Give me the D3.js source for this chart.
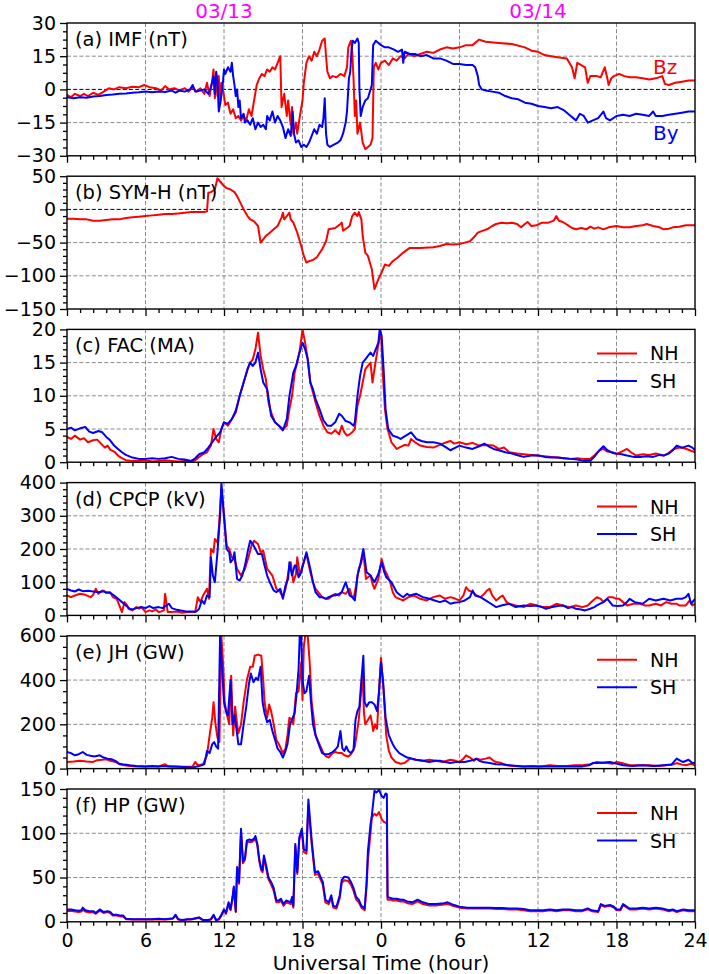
<!DOCTYPE html>
<html><head><meta charset="utf-8">
<script src="https://cdn.jsdelivr.net/npm/d3@7/dist/d3.min.js"></script>
<style>body{margin:0;background:#fff}svg{display:block}text{font-family:"DejaVu Sans",sans-serif}</style>
</head><body><svg id="c" width="709" height="974"></svg>
<script>
// ---------------- DATA (t in hours since 03/13 00 UT) ----------------
const xTickValues = [0,6,12,18,24,30,36,42,48];
const xTickLabels = ["0","6","12","18","0","6","12","18","24"];
const dateLabels = [{t:12,text:"03/13"},{t:36,text:"03/14"}];

const imfBz = [[0,-2.5],[0.3,-3.5],[0.6,-2],[1,-3],[1.3,-2],[1.6,-3],[2,-1.5],[2.4,-2.5],[2.8,-1],[3.2,0.5],[3.6,0],[4,1],[4.5,0.5],[5,1.2],[5.5,1],[5.9,2],[6.3,1],[6.8,0.5],[7.2,-0.5],[7.5,1.5],[7.8,0],[8.2,0.5],[8.6,-0.5],[9,0.5],[9.3,-1],[9.6,1],[9.9,-1],[10.2,0.5],[10.5,-2],[10.7,3],[10.9,-3],[11.1,4],[11.2,9],[11.3,-4],[11.4,7],[11.5,-3],[11.6,6],[11.7,-5],[11.8,3],[12.0,-3],[12.1,-7],[12.3,-6],[12.5,-11],[12.7,-9],[12.9,-13],[13.1,-12],[13.3,-14],[13.5,-12],[13.7,-14],[13.9,-9],[14.1,-12],[14.3,-5],[14.5,2],[14.7,5],[14.9,7],[15.1,6],[15.3,9],[15.5,8],[15.7,10],[15.9,9],[16.1,12],[16.3,15],[16.4,-8],[16.6,-2],[16.8,-12],[16.9,-5],[17.1,-16],[17.2,-8],[17.3,-20],[17.5,-15],[17.6,-20],[17.8,-12],[18.0,-5],[18.1,3],[18.3,12],[18.5,15],[18.7,13],[18.9,17],[19.1,15],[19.3,18],[19.5,22],[19.7,23],[19.8,15],[19.9,8],[20.1,5],[20.3,6],[20.6,5.5],[20.9,7],[21.2,6],[21.4,10],[21.5,19],[21.7,22],[21.8,17],[21.9,5],[22.0,-12],[22.1,-5],[22.2,-20],[22.4,-15],[22.6,-24],[22.8,-27],[23.0,-26],[23.2,-25],[23.35,-22],[23.45,10],[23.6,12],[23.8,9],[24.0,12],[24.3,13],[24.6,11],[24.9,14],[25.2,13],[25.5,15],[25.8,14],[26.1,16],[26.5,15],[27,16],[27.5,17],[28,16.5],[28.5,18],[29,19],[29.5,18.5],[30,19],[30.5,20],[31,20],[31.5,22.5],[32,21.5],[33,21],[34,20.5],[35,19],[35.5,17.5],[36,17],[36.5,15.5],[37,15],[37.5,14.5],[38.2,14],[38.6,10],[38.8,5],[39.0,12],[39.3,11],[39.6,10],[39.8,3],[40.0,6],[40.5,6],[40.8,5.5],[41.1,10],[41.3,5],[41.4,2],[41.6,5],[41.8,6],[42.2,7],[42.6,6],[43,5.5],[43.5,5.5],[44,5],[44.5,4.5],[45,5],[45.5,6],[45.7,2.5],[46,2],[46.5,3],[47,3.5],[47.5,4],[48,4]];

const imfBy = [[0,-3.5],[0.5,-4],[1,-3.5],[1.5,-3.8],[2,-3.2],[2.5,-3],[3,-2.5],[3.5,-2.3],[4,-2],[4.5,-1.8],[5,-1.5],[5.5,-1.3],[6,-1],[6.5,-1.3],[7,-1],[7.5,-1.2],[8,-0.5],[8.3,-1.5],[8.6,-0.5],[9,-1],[9.4,0],[9.6,2],[9.8,-1],[10.2,-0.5],[10.5,0],[10.8,-2],[11.0,1],[11.2,6],[11.3,-2],[11.4,8],[11.5,4],[11.6,-10],[11.75,-5],[11.9,2],[12.0,9],[12.1,7],[12.3,10],[12.5,8],[12.6,12],[12.7,6],[12.8,2],[12.9,-3],[13.0,0],[13.1,-8],[13.2,-5],[13.3,-13],[13.5,-11],[13.6,-15],[13.8,-14],[14.0,-16],[14.2,-13],[14.4,-18],[14.6,-15],[14.8,-17],[15.0,-16],[15.2,-18],[15.3,-12],[15.5,-14],[15.7,-10],[15.9,-15],[16.1,-12],[16.3,-14],[16.5,-17],[16.7,-22],[16.9,-18],[17.1,-21],[17.25,-10],[17.35,-20],[17.5,-24],[17.7,-23],[17.9,-26],[18.1,-25],[18.3,-26],[18.5,-24],[18.7,-21],[18.9,-18],[19.1,-20],[19.3,-16],[19.5,-17],[19.6,-13],[19.7,-4],[19.8,-20],[19.9,-25],[20.1,-26],[20.4,-25],[20.7,-24],[20.9,-23],[21.1,-20],[21.3,-15],[21.4,-10],[21.55,5],[21.65,8],[21.75,18],[21.85,22],[22.0,21],[22.2,23],[22.3,21],[22.35,0],[22.45,-12],[22.6,-8],[22.8,-5],[23.0,-4],[23.2,0],[23.3,2],[23.4,20],[23.6,22],[23.8,21],[24.0,20],[24.3,19],[24.6,19],[25.0,18],[25.3,17],[25.6,18],[25.7,12],[25.8,17],[26.2,16],[26.6,16],[27,15],[27.5,15.5],[28,14],[28.5,14],[29,13],[29.5,11.5],[30,11.5],[30.5,11],[31,11],[31.2,10],[31.4,6],[31.5,2],[31.7,0],[32,-0.5],[32.5,-1],[33,-1.5],[33.5,-3],[34,-4],[34.5,-4.5],[35,-6],[35.5,-6.5],[36,-7.5],[36.5,-8],[37,-8.5],[37.5,-8],[38,-9.5],[38.5,-12],[38.9,-14],[39.2,-11],[39.5,-12],[39.8,-15],[40.2,-14],[40.6,-13],[41,-10],[41.2,-13],[41.5,-14],[42,-12],[42.5,-11.5],[43,-12],[43.5,-11],[44,-11.5],[44.5,-12],[44.8,-10],[45,-12],[45.5,-12],[46,-11.5],[46.5,-11],[47,-10.5],[47.5,-10],[48,-10]];

const symH = [[0,-14],[0.5,-14],[1,-15],[1.5,-15],[2,-17],[2.5,-17],[3,-16],[3.5,-15],[4,-15],[4.5,-13],[5,-12],[5.5,-11],[6,-10],[6.5,-9],[7,-8],[7.5,-7],[8,-7],[8.5,-6],[9,-5],[9.5,-4],[10,-4],[10.5,-4],[10.7,-3],[10.8,25],[11.0,26],[11.3,30],[11.5,47],[11.7,42],[12,35],[12.2,32],[12.5,30],[12.8,26],[13,20],[13.2,12],[13.5,0],[13.8,-10],[14,-15],[14.3,-18],[14.6,-25],[14.8,-50],[15.0,-45],[15.2,-40],[15.5,-35],[15.8,-30],[16.1,-25],[16.4,-12],[16.5,-5],[16.6,-15],[16.8,-10],[17.0,-5],[17.1,-15],[17.3,-20],[17.6,-35],[17.9,-55],[18.1,-70],[18.3,-80],[18.5,-78],[18.8,-76],[19.1,-72],[19.5,-60],[19.8,-48],[20.0,-30],[20.5,-28],[20.9,-22],[21.0,-20],[21.1,-32],[21.4,-28],[21.6,-25],[21.8,-10],[22.0,-5],[22.2,-10],[22.3,-4],[22.5,-15],[22.6,-40],[22.8,-65],[23.0,-70],[23.3,-90],[23.5,-120],[23.6,-115],[23.8,-105],[24.05,-95],[24.3,-83],[24.6,-85],[24.9,-78],[25.3,-72],[25.7,-65],[26.2,-58],[27,-58],[28,-57],[28.5,-55],[29,-52],[29.5,-53],[30,-52],[30.4,-50],[30.8,-48],[31.1,-42],[31.4,-35],[31.8,-32],[32.1,-30],[32.5,-25],[32.8,-22],[33.2,-20],[33.6,-21],[34.0,-20],[34.4,-22],[34.7,-27],[35.0,-22],[35.2,-19],[35.5,-25],[35.9,-24],[36.3,-20],[36.8,-20],[37.2,-17],[37.4,-10],[37.6,-17],[37.9,-19],[38.3,-24],[38.6,-28],[38.9,-30],[39.3,-28],[39.7,-30],[40.0,-26],[40.3,-29],[40.6,-27],[41,-30],[41.4,-27],[42,-25],[42.5,-27],[43,-27],[43.5,-25],[44.0,-24],[44.3,-22],[44.8,-25],[45.3,-27],[45.6,-30],[46,-29],[46.3,-27],[46.8,-26],[47.3,-24],[48,-24]];

const facNH = [[0,3.8],[0.3,3.5],[0.6,4],[1,3.4],[1.3,3.6],[1.6,3],[2,3.3],[2.3,3.4],[2.6,2.8],[2.9,2.2],[3.1,2.5],[3.3,1.9],[3.6,1.6],[3.9,1],[4.2,0.6],[4.5,0.3],[5,0.2],[5.5,0.2],[6,0.3],[6.5,0.1],[7,0.2],[7.5,0.3],[8,0.2],[8.5,0.1],[9,0.2],[9.5,0.1],[9.8,0.3],[10.1,0.8],[10.4,1.2],[10.7,1.5],[11.0,2.5],[11.2,5],[11.4,3.5],[11.6,3],[11.8,5],[12,6],[12.3,5.5],[12.6,6.5],[12.9,7.5],[13.2,10],[13.5,12],[13.8,14],[14.0,15],[14.2,15.5],[14.4,17],[14.6,19.5],[14.8,16],[15.0,14],[15.2,12.5],[15.4,9],[15.6,7.5],[15.9,6],[16.2,5.5],[16.5,5],[16.8,5.5],[17.0,8],[17.2,10],[17.4,13.5],[17.6,15],[17.8,17],[18.0,20],[18.2,18],[18.4,15.5],[18.6,12],[18.8,10.5],[19.0,9],[19.3,7],[19.6,5.5],[19.9,4.5],[20.2,4.3],[20.5,4.8],[20.8,4.2],[21.0,5.5],[21.2,4.5],[21.4,4],[21.6,4.2],[21.8,4.5],[22.0,5],[22.2,8.5],[22.4,10],[22.6,12],[22.8,14],[23.0,14.5],[23.2,15],[23.35,12],[23.5,14],[23.7,16.5],[23.9,19],[24.0,19.5],[24.15,13],[24.3,8],[24.5,5],[24.8,3],[25.2,2],[25.5,2.3],[25.8,2.6],[26.1,2.5],[26.3,3.5],[26.6,3],[27,2.5],[27.5,2.3],[28,2.2],[28.5,2.6],[29,3],[29.3,3.2],[29.6,2.8],[30,3],[30.5,2.7],[31,2.9],[31.5,2.5],[32,2.6],[32.6,2.5],[33,2],[33.4,2.2],[33.8,1.5],[34.4,1.3],[34.9,1.2],[35.5,1.1],[36,1],[36.5,0.9],[37,0.8],[37.5,0.7],[38,0.6],[38.5,0.5],[39,0.6],[39.5,0.5],[40,0.5],[40.3,1],[40.7,1.8],[41,2],[41.3,1.6],[41.7,1.5],[42,1.2],[42.4,1.6],[42.8,2],[43.1,1.5],[43.5,1.0],[44,1.2],[44.5,1.1],[45,1.3],[45.6,1],[46,1.4],[46.4,2],[46.8,2.2],[47.2,2.1],[47.6,1.8],[48,1.5]];

const facSH = [[0,5],[0.3,5.2],[0.6,4.8],[1,5.1],[1.4,5.3],[1.7,4.6],[2,4.4],[2.4,4.7],[2.7,4.5],[3,3.8],[3.3,3.3],[3.6,2.5],[3.9,2],[4.2,1.5],[4.5,1.1],[5,0.7],[5.5,0.5],[6,0.5],[6.5,0.6],[7,0.5],[7.5,0.6],[8,0.8],[8.5,0.5],[9,0.4],[9.5,0.2],[9.8,0.6],[10.1,1.2],[10.5,1.5],[10.8,2.2],[11.1,3],[11.4,3.8],[11.7,4.5],[12,6],[12.3,5.8],[12.6,6.5],[12.9,7.8],[13.2,10],[13.5,12],[13.8,14],[14.0,15],[14.2,14.5],[14.4,15],[14.6,16.5],[14.8,14],[15.0,12],[15.3,11],[15.6,7],[15.9,6],[16.2,5.5],[16.5,4.8],[16.8,6.5],[17.0,10],[17.3,13.5],[17.5,14.5],[17.7,16],[18.0,18],[18.2,17],[18.4,15.5],[18.6,12],[18.8,11],[19.0,9.5],[19.3,8],[19.6,6.3],[19.9,5.5],[20.2,5.5],[20.5,6],[20.8,7.3],[21.0,7],[21.3,6.2],[21.6,6],[21.9,5.5],[22.0,6],[22.2,10],[22.4,13],[22.6,15],[22.8,15.5],[23.0,16],[23.2,16.5],[23.4,16],[23.6,17],[23.8,18],[23.9,20],[24.05,19],[24.2,14],[24.35,8],[24.55,5],[24.9,4],[25.2,3.8],[25.5,3.5],[25.9,4],[26.3,4.5],[26.7,3.5],[27.1,3.2],[27.5,3],[28,3],[28.5,2.8],[29,2.2],[29.3,1.8],[29.7,2.2],[30,2.5],[30.5,2.2],[31,2],[31.5,2.4],[31.9,2.8],[32.3,2.3],[32.6,2],[33,1.8],[33.5,1.5],[34,1.3],[34.5,1.0],[34.9,0.8],[35.5,1],[36,1],[36.5,0.8],[37,0.7],[37.5,0.7],[38,0.6],[38.5,0.5],[39,0.4],[39.5,0.2],[40,0.2],[40.3,0.8],[40.7,1.8],[41,2.4],[41.3,1.8],[41.7,1.4],[42,1.3],[42.4,1.2],[42.8,1],[43.3,0.8],[43.8,0.8],[44.3,0.9],[44.8,0.8],[45.3,1.1],[45.6,1],[46,1.3],[46.3,1.8],[46.6,2.5],[47,2.2],[47.5,2.5],[47.8,2.2],[48,1.8]];

const cpcpNH = [[0,60],[0.3,55],[0.6,60],[1,65],[1.4,62],[1.8,55],[2.0,62],[2.2,80],[2.4,65],[2.7,75],[3,70],[3.3,70],[3.5,55],[3.8,50],[4.0,30],[4.2,10],[4.4,40],[4.6,30],[4.7,20],[5,15],[5.3,25],[5.5,20],[5.7,25],[6,10],[6.3,15],[6.5,12],[6.8,18],[7,10],[7.2,12],[7.4,15],[7.5,65],[7.7,10],[8,10],[8.4,12],[8.8,8],[9.2,10],[9.5,10],[9.8,10],[10,55],[10.2,40],[10.4,60],[10.7,80],[10.85,50],[11,200],[11.2,190],[11.3,230],[11.5,220],[11.6,260],[11.8,380],[12,300],[12.2,210],[12.4,200],[12.6,175],[12.8,170],[13.0,140],[13.3,120],[13.6,140],[13.9,180],[14.1,210],[14.3,225],[14.6,215],[14.8,190],[15.0,195],[15.3,140],[15.5,130],[15.7,120],[16.0,80],[16.3,70],[16.5,55],[16.7,80],[16.8,100],[17.0,150],[17.1,160],[17.3,100],[17.5,125],[17.6,175],[17.8,120],[18,150],[18.3,185],[18.6,130],[18.8,100],[19,80],[19.3,65],[19.5,55],[19.8,50],[20,50],[20.3,60],[20.5,65],[20.8,60],[21,70],[21.3,65],[21.6,80],[21.75,60],[21.9,50],[22.1,90],[22.3,140],[22.5,160],[22.65,190],[22.85,110],[23.0,115],[23.2,120],[23.35,95],[23.5,80],[23.8,110],[24.05,170],[24.3,135],[24.5,120],[24.7,100],[24.9,70],[25.1,55],[25.4,50],[25.7,45],[26.1,55],[26.5,60],[27,50],[27.5,45],[28,55],[28.5,60],[28.9,50],[29.3,55],[29.7,50],[30,45],[30.3,60],[30.5,85],[30.7,75],[31,70],[31.3,60],[31.6,55],[31.9,65],[32.1,75],[32.3,80],[32.5,60],[32.8,45],[33.1,55],[33.3,60],[33.6,40],[33.8,35],[34.3,30],[34.9,25],[35.4,35],[35.9,30],[36.4,25],[36.9,25],[37.4,35],[37.9,30],[38.4,25],[38.9,30],[39.4,25],[39.8,30],[40.2,45],[40.5,55],[40.8,50],[41,40],[41.4,55],[41.7,55],[42,50],[42.2,50],[42.5,40],[42.8,30],[43.3,35],[43.8,35],[44.2,30],[44.5,30],[45,35],[45.4,30],[45.8,40],[46.2,35],[46.6,35],[46.8,30],[47.3,30],[47.6,45],[47.8,30],[48,35]];

const cpcpSH = [[0,80],[0.3,75],[0.6,72],[0.9,78],[1.2,73],[1.6,74],[2,72],[2.4,70],[2.8,73],[3,68],[3.3,68],[3.6,60],[3.9,50],[4.2,40],[4.5,30],[4.8,20],[5,18],[5.3,22],[5.6,25],[6,22],[6.3,28],[6.6,22],[7,25],[7.3,22],[7.6,30],[7.8,35],[8.0,22],[8.3,18],[8.7,15],[9.1,12],[9.5,12],[9.9,12],[10.1,20],[10.3,45],[10.5,35],[10.7,60],[10.9,55],[11.0,175],[11.15,120],[11.3,100],[11.5,190],[11.7,300],[11.8,400],[12,300],[12.2,200],[12.4,190],[12.5,160],[12.7,170],[12.8,190],[13.0,110],[13.2,105],[13.4,120],[13.6,150],[13.8,190],[14.0,225],[14.2,215],[14.4,200],[14.6,185],[14.9,185],[15.1,150],[15.3,120],[15.5,100],[15.8,75],[16.0,70],[16.3,80],[16.5,50],[16.7,90],[16.9,110],[17.0,160],[17.2,120],[17.4,150],[17.5,150],[17.7,115],[17.9,130],[18,145],[18.3,190],[18.6,140],[18.8,100],[19,70],[19.3,55],[19.5,55],[19.8,50],[20,55],[20.3,60],[20.5,60],[20.8,65],[21.0,70],[21.3,100],[21.5,75],[21.6,60],[21.8,55],[22,45],[22.1,80],[22.2,120],[22.4,150],[22.65,200],[22.9,130],[23.2,120],[23.5,100],[23.8,125],[24.05,160],[24.25,130],[24.4,115],[24.8,100],[25.0,85],[25.2,70],[25.5,60],[25.7,55],[26.0,65],[26.2,60],[26.7,65],[27.2,55],[27.7,50],[28.1,45],[28.5,40],[28.9,45],[29.3,35],[29.6,38],[30,40],[30.4,45],[30.8,55],[31.0,75],[31.2,60],[31.6,55],[32,45],[32.4,35],[32.8,25],[33.2,30],[33.8,35],[34.3,25],[34.9,30],[35.4,28],[35.9,30],[36.3,25],[36.6,20],[37.1,25],[37.5,28],[37.9,30],[38.3,22],[38.6,25],[38.9,20],[39.3,18],[39.6,15],[40,20],[40.3,25],[40.5,30],[41,40],[41.3,50],[41.5,40],[41.7,30],[42.1,28],[42.5,30],[42.8,40],[43,50],[43.4,40],[44,35],[44.5,50],[45,45],[45.6,50],[46.1,45],[46.6,50],[47,50],[47.3,55],[47.5,65],[47.7,35],[48,50]];

const jhNH = [[0,30],[0.5,32],[1,35],[1.5,32],[2,30],[2.3,38],[2.7,40],[3,42],[3.3,35],[3.7,30],[4,20],[4.4,15],[4.8,12],[5.3,10],[6,10],[6.5,10],[7,10],[7.5,20],[7.7,10],[8.2,10],[8.8,8],[9.3,8],[9.6,10],[9.8,30],[10,15],[10.4,20],[10.7,60],[10.9,150],[11.1,230],[11.2,300],[11.35,200],[11.5,140],[11.65,120],[11.8,600],[11.95,450],[12.05,300],[12.2,250],[12.4,200],[12.55,420],[12.7,150],[12.85,280],[13.0,200],[13.1,160],[13.3,200],[13.5,300],[13.75,400],[14.0,460],[14.2,460],[14.35,510],[14.6,515],[14.85,510],[15.0,400],[15.1,300],[15.3,230],[15.45,290],[15.6,260],[15.8,200],[16.0,130],[16.2,110],[16.5,70],[16.7,90],[16.85,150],[17.0,230],[17.2,220],[17.3,200],[17.5,340],[17.7,350],[17.9,480],[18.0,310],[18.1,550],[18.25,620],[18.4,600],[18.55,480],[18.7,300],[18.85,230],[19.0,150],[19.3,110],[19.6,70],[19.8,55],[20.0,50],[20.3,70],[20.5,75],[20.8,70],[21.0,70],[21.2,60],[21.5,55],[21.7,65],[21.8,75],[22.0,100],[22.15,160],[22.3,220],[22.45,330],[22.6,420],[22.7,250],[22.8,200],[23.0,220],[23.2,240],[23.3,210],[23.4,170],[23.55,200],[23.7,180],[23.85,350],[24.0,500],[24.2,350],[24.4,150],[24.6,80],[24.8,50],[25.1,30],[25.5,22],[25.8,25],[26.2,45],[26.6,40],[27.2,35],[27.7,40],[28.2,35],[28.7,30],[29.3,40],[29.7,35],[30,30],[30.3,45],[30.5,60],[30.8,50],[31.1,35],[31.3,45],[31.6,40],[32,45],[32.3,50],[32.6,35],[32.8,30],[33.2,25],[33.6,15],[34.2,12],[34.9,10],[35.5,12],[36.2,10],[36.9,15],[37.5,12],[38.2,12],[38.8,15],[39.4,15],[40,20],[40.5,30],[40.9,25],[41.3,25],[41.7,22],[42,30],[42.4,25],[43,15],[43.6,15],[44.5,15],[45.2,12],[45.8,15],[46.3,18],[46.6,25],[47,18],[47.3,15],[47.7,22],[48,15]];

const jhSH = [[0,75],[0.3,70],[0.6,60],[0.9,65],[1.2,75],[1.5,62],[1.8,58],[2.1,55],[2.5,60],[2.8,50],[3.1,45],[3.4,42],[3.7,35],[4,22],[4.4,18],[4.8,15],[5.3,12],[6,10],[6.5,12],[7,10],[7.5,12],[8,10],[8.6,8],[9.2,6],[9.6,5],[10,10],[10.3,15],[10.5,20],[10.7,80],[10.9,70],[11.1,110],[11.25,120],[11.4,100],[11.55,90],[11.7,600],[11.85,450],[12.0,300],[12.15,260],[12.3,240],[12.5,400],[12.65,200],[12.8,240],[12.95,180],[13.1,110],[13.3,110],[13.5,200],[13.7,280],[13.9,380],[14.05,430],[14.25,390],[14.45,410],[14.6,400],[14.8,460],[14.95,300],[15.1,250],[15.3,210],[15.5,220],[15.7,170],[15.9,130],[16.1,90],[16.3,75],[16.5,50],[16.7,80],[16.85,110],[17.05,200],[17.25,230],[17.4,250],[17.55,340],[17.7,450],[17.8,620],[17.9,600],[18.0,400],[18.15,340],[18.3,350],[18.5,420],[18.65,300],[18.8,200],[19.0,150],[19.3,100],[19.5,70],[19.7,65],[20.0,65],[20.3,75],[20.5,85],[20.7,100],[20.9,170],[21.05,90],[21.2,80],[21.35,100],[21.5,80],[21.7,70],[21.9,85],[22.05,220],[22.2,260],[22.35,280],[22.5,400],[22.65,510],[22.75,300],[22.9,280],[23.1,300],[23.3,300],[23.5,290],[23.7,260],[23.85,350],[24.0,480],[24.15,400],[24.35,230],[24.6,150],[24.9,110],[25.1,90],[25.4,70],[25.7,60],[26.0,50],[26.4,45],[26.7,40],[27.2,35],[27.7,30],[28.2,35],[28.5,35],[28.9,30],[29.3,25],[29.7,30],[30,30],[30.4,30],[30.8,35],[31.1,40],[31.3,45],[31.5,35],[31.8,30],[32.3,25],[32.8,20],[33.3,18],[33.8,15],[34.4,12],[34.9,10],[35.8,10],[36.9,10],[38,10],[39.4,10],[39.9,15],[40.2,25],[40.5,25],[41,28],[41.5,30],[41.8,25],[42.2,20],[42.5,15],[43.2,12],[44,15],[44.8,12],[45.6,15],[46.2,18],[46.6,45],[46.9,35],[47.1,30],[47.5,40],[47.8,25],[48,25]];

const hpNH = [[0,12],[0.3,12.5],[0.6,11.5],[0.9,11],[1.1,11.5],[1.2,14],[1.4,11.5],[1.7,10.5],[2.0,11],[2.2,9],[2.5,12.5],[2.8,10],[3.1,11],[3.3,10],[3.5,7],[3.8,7],[4.1,6],[4.3,6],[4.5,3],[5,2.5],[5.5,2.5],[6,2.5],[6.5,2.5],[7,3],[7.5,2.5],[7.8,3],[8.1,3.5],[8.3,7],[8.5,2.5],[8.8,1.5],[9.2,2.5],[9.5,2.5],[9.8,3.5],[10.1,4.5],[10.4,1.5],[10.8,1.5],[11.0,2.5],[11.2,7],[11.4,1.5],[11.6,2.5],[11.8,7],[12.0,13],[12.15,9],[12.35,20],[12.5,13],[12.65,26],[12.75,38],[12.9,11],[13.0,60],[13.1,48],[13.15,43],[13.3,102],[13.45,66],[13.6,70],[13.75,90],[13.95,90],[14.1,90],[14.3,92],[14.4,95],[14.55,86],[14.7,68],[14.85,58],[14.95,56],[15.05,72],[15.2,62],[15.4,48],[15.6,42],[15.8,35],[16.0,22],[16.2,22],[16.35,24],[16.55,18],[16.75,22],[16.95,21],[17.1,20],[17.2,25],[17.3,16],[17.45,85],[17.6,54],[17.75,92],[17.95,102],[18.1,79],[18.3,77],[18.45,132],[18.7,88],[18.95,53],[19.2,54],[19.4,47],[19.55,42],[19.75,22],[20.0,20],[20.2,27],[20.35,16],[20.6,15],[20.85,27],[21.0,44],[21.2,47],[21.5,46],[21.7,42],[21.9,35],[22.1,25],[22.3,22],[22.5,16],[22.75,13],[22.9,40],[23.0,70],[23.2,100],[23.3,118],[23.5,122],[23.65,120],[23.85,124],[24.05,116],[24.2,113],[24.35,112],[24.45,110],[24.5,25],[24.7,25],[24.9,24],[25.2,24],[25.5,23],[25.7,23],[26.0,21],[26.4,20],[26.8,23],[27.2,20],[27.7,18.5],[28.2,18.5],[28.8,19.5],[29.1,20],[29.4,18.5],[30,16],[30.6,15],[31.3,15],[31.9,15],[32.3,15],[32.8,14.5],[33.3,14.5],[33.8,14],[34.4,14],[34.9,13],[35.4,12],[35.9,12],[36.4,12],[36.9,13],[37.4,12],[37.9,13],[38.4,13],[38.9,12],[39.4,12],[39.8,14],[40.1,12],[40.6,11],[40.8,19],[41.1,17],[41.5,18],[41.8,16],[42,13],[42.3,13],[42.5,19],[42.8,16],[43,14],[43.5,14],[44,15],[44.5,14],[45,15],[45.5,14],[46,12],[46.3,13],[46.6,11],[47.1,13],[47.5,12],[48,12]];

const hpSH = [[0,14],[0.3,14],[0.6,13],[0.9,12.5],[1.1,13],[1.2,16],[1.4,13],[1.7,12],[2.0,12],[2.2,10],[2.5,14],[2.8,11],[3.1,12],[3.3,11],[3.5,8],[3.8,8],[4.1,7],[4.3,7],[4.5,3.5],[5,3],[5.5,3],[6,3],[6.5,3],[7,3.5],[7.5,3],[7.8,3.5],[8.1,4],[8.3,8],[8.5,3],[8.8,2],[9.2,3],[9.5,3],[9.8,4],[10.1,5],[10.4,2],[10.8,2],[11.0,3],[11.2,8],[11.4,2],[11.6,3],[11.8,8],[12.0,14],[12.15,10],[12.35,22],[12.5,14],[12.65,28],[12.75,40],[12.9,12],[13.0,62],[13.1,50],[13.15,45],[13.3,105],[13.45,68],[13.6,72],[13.75,92],[13.95,93],[14.1,92],[14.3,94],[14.4,97],[14.55,88],[14.7,70],[14.85,60],[14.95,58],[15.05,75],[15.2,65],[15.4,50],[15.6,45],[15.8,38],[16.0,24],[16.2,24],[16.35,26],[16.55,20],[16.75,24],[16.95,23],[17.1,22],[17.2,28],[17.3,18],[17.45,88],[17.6,56],[17.75,95],[17.95,105],[18.1,82],[18.3,80],[18.45,138],[18.7,92],[18.95,56],[19.2,57],[19.4,50],[19.55,45],[19.75,25],[20.0,22],[20.2,30],[20.35,18],[20.6,17],[20.85,30],[21.0,47],[21.2,51],[21.5,50],[21.7,45],[21.9,38],[22.1,28],[22.3,25],[22.5,18],[22.75,15],[22.9,45],[23.0,80],[23.2,110],[23.3,120],[23.5,148],[23.65,146],[23.85,149],[24.05,142],[24.2,140],[24.35,145],[24.45,144],[24.5,28],[24.7,27],[24.9,26],[25.2,26],[25.5,25],[25.7,25],[26.0,23],[26.4,22],[26.8,25],[27.2,22],[27.7,20],[28.2,20],[28.8,21],[29.1,22],[29.4,20],[30,17],[30.6,16],[31.3,16],[31.9,16],[32.3,16],[32.8,15.5],[33.3,15.5],[33.8,15],[34.4,15],[34.9,14.5],[35.4,13],[35.9,13],[36.4,13],[36.9,14],[37.4,13],[37.9,14],[38.4,14],[38.9,13],[39.4,13],[39.8,15],[40.1,13],[40.6,12],[40.8,20],[41.1,18],[41.5,19],[41.8,17],[42,14],[42.3,14],[42.5,20],[42.8,17],[43,15],[43.5,15],[44,16],[44.5,15],[45,16],[45.5,15],[46,13],[46.3,14],[46.6,12],[47.1,14],[47.5,13],[48,13]];

const panelTitles = ["(a) IMF (nT)","(b) SYM-H (nT)","(c) FAC (MA)","(d) CPCP (kV)","(e) JH (GW)","(f) HP (GW)"];
const yDomains = [[-30,30],[-150,50],[0,20],[0,400],[0,600],[0,150]];
const yMajorTicks = [[-30,-15,0,15,30],[-150,-100,-50,0,50],[0,5,10,15,20],[0,100,200,300,400],[0,200,400,600],[0,50,100,150]];
const yMinorSteps = [3.75,10,1,20,50,10];
const legendNames = ["NH","SH"];

// ---------------- LAYOUT ----------------
const RED="#ff0000", BLUE="#0000ff";
const panels = [
  {series:[{d:imfBz,c:RED},{d:imfBy,c:BLUE}], zero:true, legend:false, labels:[{text:"Bz",c:RED,dy:51},{text:"By",c:BLUE,dy:117}]},
  {series:[{d:symH,c:RED}], zero:true, legend:false},
  {series:[{d:facNH,c:RED},{d:facSH,c:BLUE}], legend:true},
  {series:[{d:cpcpNH,c:RED},{d:cpcpSH,c:BLUE}], legend:true},
  {series:[{d:jhNH,c:RED},{d:jhSH,c:BLUE}], legend:true},
  {series:[{d:hpNH,c:RED},{d:hpSH,c:BLUE}], legend:true}
];
const L=67, R=695, top0=23, step=153.2, ph=132.8;
const svg = d3.select("#c");
svg.append("rect").attr("width",709).attr("height",974).attr("fill","#fff");
const x = d3.scaleLinear().domain([0,48]).range([L,R]);

panels.forEach((p,i)=>{
  const t = top0 + i*step, b = t + ph;
  const y = d3.scaleLinear().domain(yDomains[i]).range([b,t]);
  const g = svg.append("g");
  const cid = "clip"+i;
  svg.append("clipPath").attr("id",cid).append("rect").attr("x",L).attr("y",t).attr("width",R-L).attr("height",ph);
  // grid
  const grid = g.append("g").attr("stroke","#8a8a8a").attr("stroke-width",1).attr("stroke-dasharray","4,2.2");
  xTickValues.slice(1,-1).forEach(v=>grid.append("line").attr("x1",x(v)).attr("x2",x(v)).attr("y1",t).attr("y2",b));
  yMajorTicks[i].filter(v=>v!==yDomains[i][0]&&v!==yDomains[i][1]&&!(p.zero&&v===0))
    .forEach(v=>grid.append("line").attr("x1",L).attr("x2",R).attr("y1",y(v)).attr("y2",y(v)));
  if(p.zero) g.append("line").attr("x1",L).attr("x2",R).attr("y1",y(0)).attr("y2",y(0))
    .attr("stroke","#000").attr("stroke-width",1).attr("stroke-dasharray","4,2.2");
  // lines
  const line = d3.line().x(d=>x(d[0])).y(d=>y(d[1]));
  const lg = g.append("g").attr("clip-path",`url(#${cid})`);
  p.series.forEach(s=>lg.append("path").attr("d",line(s.d)).attr("fill","none").attr("stroke",s.c)
    .attr("stroke-width",2).attr("stroke-linejoin","round"));
  // axes
  const minor = d3.range(yDomains[i][0], yDomains[i][1]+1e-9, yMinorSteps[i]).filter(v=>!yMajorTicks[i].some(m=>Math.abs(m-v)<1e-9));
  const ya = g.append("g").attr("transform",`translate(${L},0)`)
    .call(d3.axisLeft(y).tickValues(yMajorTicks[i]).tickSize(7).tickPadding(4).tickFormat(d=>d<0?"\u2212"+(-d):String(d)));
  const ym = g.append("g").attr("transform",`translate(${L},0)`)
    .call(d3.axisLeft(y).tickValues(minor).tickSize(4).tickFormat(""));
  const xa = g.append("g").attr("transform",`translate(0,${b})`)
    .call(d3.axisBottom(x).tickValues(xTickValues).tickSize(7).tickPadding(5)
      .tickFormat((d,k)=> i===5 ? xTickLabels[k] : ""));
  const xm = g.append("g").attr("transform",`translate(0,${b})`)
    .call(d3.axisBottom(x).tickValues(d3.range(0,49,1).filter(v=>v%6!==0)).tickSize(4).tickFormat(""));
  [ya,ym,xa,xm].forEach(a=>{a.select(".domain").remove(); a.selectAll("line").attr("stroke","#000").attr("stroke-width",1.3);
    a.selectAll("text").attr("fill","#000").style("font-family","DejaVu Sans").style("font-size","19px");});
  xa.selectAll("text").attr("dy","0.71em");
  // frame
  g.append("rect").attr("x",L).attr("y",t).attr("width",R-L).attr("height",ph).attr("fill","none").attr("stroke","#000").attr("stroke-width",1.4);
  // title
  g.append("text").attr("x",75).attr("y",t+23).attr("font-size","19.5px").attr("fill","#000").text(panelTitles[i]);
  if(p.labels) p.labels.forEach(l=>g.append("text").attr("x",653).attr("y",t+l.dy).attr("font-size","20px").attr("fill",l.c).text(l.text));
  if(p.legend){
    [RED,BLUE].forEach((c,k)=>{
      const ly = t + 24 + k*27.5;
      g.append("line").attr("x1",597).attr("x2",637).attr("y1",ly).attr("y2",ly).attr("stroke",c).attr("stroke-width",2);
      g.append("text").attr("x",650).attr("y",ly+7).attr("font-size","19px").attr("fill","#000").text(legendNames[k]);
    });
  }
});
// date labels
dateLabels.forEach(dl=>svg.append("text").attr("x",x(dl.t)).attr("y",17.5).attr("text-anchor","middle")
  .attr("font-size","20px").attr("fill","#ff00ff").text(dl.text));
svg.append("text").attr("x",(L+R)/2).attr("y",970).attr("text-anchor","middle").attr("font-size","20px").attr("fill","#000").text("Universal Time (hour)");
</script></body></html>
